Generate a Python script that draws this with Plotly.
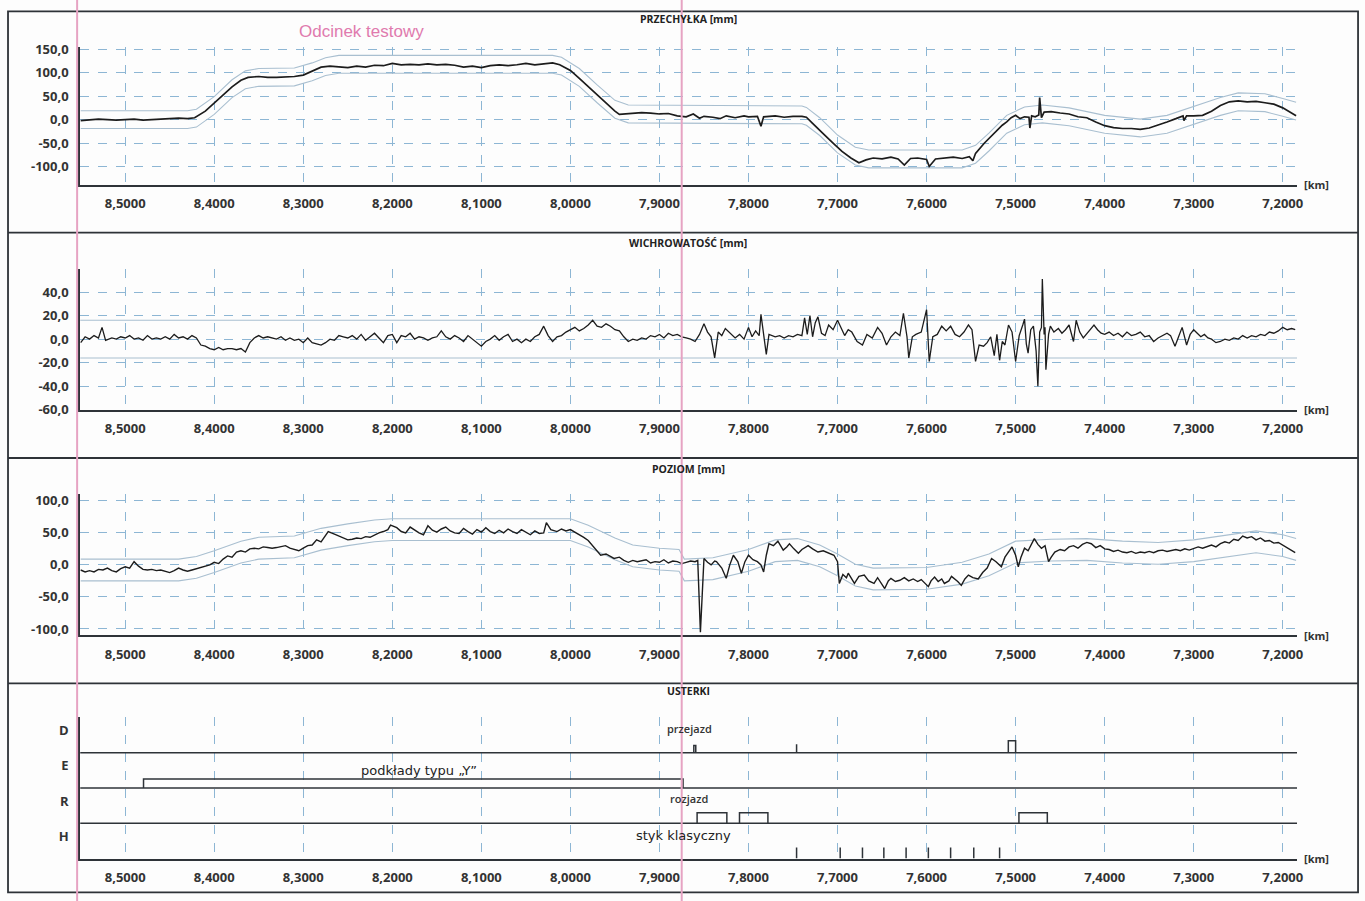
import plotly.graph_objects as go

W, H = 1365, 901
# The captured page shows the figure slightly shrunk; positions below are given in
# picture pixels and converted to paper coordinates with that correction.
SX = 0.994
SY, CY = 0.981, H / 2


def px(x):
    return (x / SX) / W


def py(y):
    return 1 - (CY + (y - CY) / SY) / H


# ---------------- data ----------------
KM_RANGE = [8.5506, 7.1839]
km_ticks = [8.5, 8.4, 8.3, 8.2, 8.1, 8.0, 7.9, 7.8, 7.7, 7.6, 7.5, 7.4, 7.3, 7.2]
km_ticktext = ["8,5000", "8,4000", "8,3000", "8,2000", "8,1000", "8,0000", "7,9000",
               "7,8000", "7,7000", "7,6000", "7,5000", "7,4000", "7,3000", "7,2000"]
TEST_SECTION_KM = 7.875

# PRZECHYŁKA [mm]
cant_km = [8.550, 8.540, 8.530, 8.520, 8.510, 8.500, 8.490, 8.480, 8.470, 8.460, 8.450, 8.440,
           8.430, 8.422, 8.410, 8.400, 8.390, 8.380, 8.370, 8.362, 8.350, 8.340, 8.330, 8.320,
           8.310, 8.300, 8.290, 8.280, 8.270, 8.260, 8.250, 8.240, 8.230, 8.220, 8.210, 8.200,
           8.190, 8.180, 8.170, 8.160, 8.150, 8.140, 8.130, 8.120, 8.110, 8.100, 8.090, 8.080,
           8.070, 8.060, 8.050, 8.040, 8.030, 8.020, 8.012, 8.000, 7.990, 7.980, 7.970, 7.960,
           7.950, 7.945, 7.930, 7.920, 7.910, 7.900, 7.890, 7.880, 7.870, 7.862, 7.855, 7.850,
           7.840, 7.832, 7.825, 7.815, 7.805, 7.800, 7.790, 7.786, 7.783, 7.770, 7.760, 7.750,
           7.740, 7.735, 7.728, 7.722, 7.715, 7.705, 7.695, 7.685, 7.676, 7.668, 7.660, 7.650,
           7.640, 7.632, 7.625, 7.618, 7.610, 7.600, 7.597, 7.590, 7.580, 7.570, 7.560, 7.552,
           7.548, 7.545, 7.535, 7.525, 7.520, 7.515, 7.510, 7.505, 7.500, 7.495, 7.490, 7.485,
           7.484, 7.482, 7.478, 7.474, 7.473, 7.471, 7.468, 7.460, 7.450, 7.440, 7.430, 7.420,
           7.410, 7.400, 7.390, 7.380, 7.370, 7.360, 7.350, 7.340, 7.330, 7.320, 7.312, 7.311,
           7.308, 7.300, 7.290, 7.280, 7.270, 7.260, 7.250, 7.240, 7.230, 7.220, 7.210, 7.200,
           7.190, 7.185]
cant_mm = [-2, 0, 1, 0, -1, 0, 1, -1, 0, 1, 2, 3,
           2, 4, 18, 35, 52, 70, 84, 90, 92, 90, 90, 91,
           92, 95, 104, 112, 114, 113, 111, 114, 112, 116, 115, 120,
           117, 118, 117, 119, 117, 118, 116, 112, 114, 111, 115, 117,
           115, 117, 120, 117, 119, 121, 117, 105, 88, 70, 52, 34,
           18, 11, 13, 15, 14, 12, 13, 8, 6, 12, 3, 7,
           5, 2, 8, 4, 8, 6, 7, -14, 6, 8, 5, 7,
           7, 5, -8, -20, -32, -50, -68, -82, -92, -86, -82, -84,
           -80, -84, -97, -83, -82, -85, -100, -84, -82, -80, -83, -79,
           -88, -72, -50, -30, -22, -12, -5, 4, 9, 2, 6, 5,
           -18, 8, 6, 10, 47, 4, 16, 17, 14, 12, 6, 4,
           -5, -13, -17, -19, -19, -21, -18, -12, -5, 2, 8, -2,
           8, 8, 9, 18, 30, 38, 40, 38, 39, 36, 33, 25,
           14, 8]
cant_nom_km = [8.55, 8.43, 8.42, 8.40, 8.38, 8.365, 8.35, 8.31, 8.29, 8.275, 8.26, 8.02, 8.01,
               7.99, 7.97, 7.95, 7.935, 7.74, 7.735, 7.72, 7.70, 7.68, 7.665, 7.56, 7.545,
               7.53, 7.51, 7.49, 7.47, 7.44, 7.40, 7.36, 7.33, 7.30, 7.27, 7.25, 7.22, 7.20,
               7.185]
cant_nom_mm = [0, 0, 3, 30, 66, 85, 90, 91, 102, 113, 118, 118, 114,
               90, 55, 22, 12, 10, 7, -15, -52, -78, -84, -84, -74,
               -48, -10, 8, 12, 6, -10, -18, -10, 9, 28, 38, 36, 26,
               18]
CANT_TOL = 19

# WICHROWATOŚĆ [mm]
twist_km = [8.550, 8.545, 8.540, 8.535, 8.530, 8.526, 8.522, 8.515, 8.510, 8.505, 8.500, 8.495,
            8.490, 8.485, 8.480, 8.475, 8.470, 8.465, 8.460, 8.455, 8.450, 8.445, 8.440, 8.435,
            8.430, 8.425, 8.420, 8.415, 8.410, 8.405, 8.400, 8.395, 8.390, 8.385, 8.380, 8.375,
            8.370, 8.365, 8.360, 8.355, 8.350, 8.345, 8.340, 8.335, 8.330, 8.325, 8.320, 8.315,
            8.310, 8.305, 8.300, 8.295, 8.290, 8.285, 8.280, 8.275, 8.270, 8.265, 8.260, 8.255,
            8.250, 8.245, 8.240, 8.235, 8.230, 8.225, 8.220, 8.215, 8.210, 8.205, 8.200, 8.195,
            8.190, 8.185, 8.180, 8.175, 8.170, 8.165, 8.160, 8.155, 8.150, 8.145, 8.140, 8.135,
            8.130, 8.125, 8.120, 8.115, 8.110, 8.105, 8.100, 8.095, 8.090, 8.085, 8.080, 8.075,
            8.070, 8.065, 8.060, 8.055, 8.050, 8.045, 8.040, 8.035, 8.030, 8.025, 8.020, 8.015,
            8.010, 8.005, 8.000, 7.995, 7.990, 7.985, 7.980, 7.975, 7.970, 7.965, 7.960, 7.955,
            7.950, 7.945, 7.940, 7.935, 7.930, 7.925, 7.920, 7.915, 7.910, 7.905, 7.900, 7.895,
            7.890, 7.885, 7.880, 7.875, 7.870, 7.865, 7.860, 7.855, 7.850, 7.846, 7.842, 7.838,
            7.834, 7.830, 7.826, 7.820, 7.815, 7.810, 7.805, 7.800, 7.796, 7.792, 7.788, 7.786,
            7.783, 7.780, 7.777, 7.770, 7.765, 7.760, 7.755, 7.750, 7.745, 7.740, 7.737, 7.734,
            7.731, 7.728, 7.725, 7.722, 7.718, 7.714, 7.710, 7.705, 7.700, 7.696, 7.692, 7.688,
            7.684, 7.678, 7.672, 7.667, 7.661, 7.655, 7.650, 7.645, 7.640, 7.635, 7.630, 7.626,
            7.622, 7.620, 7.616, 7.612, 7.606, 7.600, 7.597, 7.593, 7.588, 7.583, 7.578, 7.573,
            7.568, 7.563, 7.558, 7.553, 7.549, 7.545, 7.541, 7.536, 7.532, 7.528, 7.524, 7.521,
            7.518, 7.515, 7.512, 7.508, 7.504, 7.500, 7.496, 7.492, 7.490, 7.488, 7.486, 7.483,
            7.480, 7.477, 7.475, 7.473, 7.471, 7.470, 7.468, 7.467, 7.466, 7.463, 7.461, 7.457,
            7.452, 7.448, 7.444, 7.440, 7.437, 7.435, 7.432, 7.428, 7.424, 7.420, 7.415, 7.412,
            7.408, 7.404, 7.400, 7.395, 7.390, 7.385, 7.380, 7.375, 7.370, 7.365, 7.360, 7.355,
            7.350, 7.345, 7.340, 7.335, 7.330, 7.326, 7.321, 7.317, 7.313, 7.310, 7.308, 7.304,
            7.300, 7.296, 7.292, 7.288, 7.284, 7.280, 7.275, 7.270, 7.265, 7.260, 7.255, 7.250,
            7.245, 7.240, 7.235, 7.230, 7.225, 7.220, 7.215, 7.210, 7.205, 7.200, 7.195, 7.190,
            7.186]
twist_mm = [-3, 2, 0, 3, 1, 10, -1, 1, 0, 2, 1, 3,
            0, 1, -1, 3, 0, 1, 0, 2, 0, 4, 1, 2,
            0, 3, 1, -5, -6, -8, -9, -7, -9, -8, -8, -9,
            -8, -11, -3, 1, 3, 1, 2, 1, 0, 2, -1, 1,
            -1, 0, -3, 1, -3, -4, -5, -3, 0, -1, 3, 2,
            1, 3, 0, 4, -1, 2, 5, 1, -3, 3, 4, -3,
            3, 2, 5, 0, 2, 1, -1, 1, 2, 7, 2, 0,
            3, 1, -2, 3, 0, -3, -6, -2, 0, 3, -1, 2,
            4, -2, 0, -3, 0, -2, 2, 4, 11, 3, -2, 2,
            3, 6, 8, 10, 7, 9, 12, 16, 11, 10, 13, 11,
            8, 7, 2, -2, 0, -1, 1, 0, 3, 2, 4, 1,
            5, 3, 4, 2, 1, 0, -2, 4, 13, 6, 2, -16,
            6, 3, 9, 5, 1, 4, 0, 10, 2, 7, 3, 21,
            2, -13, 4, 2, 3, 1, 3, 2, 4, 3, 18, 4,
            20, 2, 14, 19, 5, 3, 12, 8, 16, 10, 3, 8,
            6, -2, -5, 4, 1, 10, 5, -5, 2, 6, 3, 22,
            2, -16, 2, 4, 6, 25, -19, 2, 4, 11, 7, 11,
            4, 2, 6, 12, 8, -19, -5, -6, -3, 2, -14, 4,
            -18, -2, -5, 12, 6, -19, 3, 12, 17, -4, -12, 8,
            11, -10, -40, 6, 10, 51, 4, 10, -26, 4, 11, 6,
            9, 5, 8, 12, 3, -2, 16, 6, 1, 5, 9, 12,
            8, 5, 4, 6, 3, 5, 2, 6, 3, 4, 6, 2,
            3, -2, 1, 3, 5, 3, -6, 2, 10, 1, -5, 4,
            8, 5, 2, 4, 1, 0, -3, -2, 0, -1, 1, 0,
            3, 1, 3, 2, 4, 3, 6, 5, 7, 10, 8, 9,
            8]
TWIST_LIMIT = 16

# POZIOM [mm]
level_km = [8.550, 8.545, 8.540, 8.535, 8.530, 8.525, 8.520, 8.515, 8.510, 8.505, 8.500, 8.495,
            8.490, 8.485, 8.480, 8.475, 8.470, 8.465, 8.460, 8.455, 8.450, 8.445, 8.440, 8.435,
            8.430, 8.425, 8.420, 8.415, 8.410, 8.405, 8.400, 8.395, 8.390, 8.385, 8.380, 8.375,
            8.370, 8.365, 8.360, 8.355, 8.350, 8.345, 8.340, 8.335, 8.330, 8.325, 8.320, 8.315,
            8.310, 8.305, 8.300, 8.295, 8.290, 8.285, 8.280, 8.275, 8.272, 8.265, 8.260, 8.255,
            8.250, 8.245, 8.240, 8.235, 8.230, 8.225, 8.220, 8.215, 8.210, 8.205, 8.202, 8.195,
            8.190, 8.185, 8.180, 8.175, 8.170, 8.165, 8.160, 8.155, 8.150, 8.145, 8.140, 8.135,
            8.130, 8.125, 8.120, 8.115, 8.110, 8.105, 8.100, 8.095, 8.090, 8.085, 8.080, 8.075,
            8.070, 8.065, 8.060, 8.055, 8.050, 8.045, 8.040, 8.035, 8.030, 8.027, 8.022, 8.015,
            8.010, 8.005, 8.000, 7.995, 7.990, 7.985, 7.980, 7.975, 7.970, 7.966, 7.960, 7.955,
            7.951, 7.945, 7.940, 7.935, 7.930, 7.925, 7.921, 7.915, 7.910, 7.905, 7.900, 7.895,
            7.890, 7.885, 7.880, 7.875, 7.870, 7.865, 7.860, 7.857, 7.854, 7.850, 7.846, 7.842,
            7.838, 7.836, 7.830, 7.825, 7.821, 7.817, 7.812, 7.808, 7.804, 7.800, 7.795, 7.790,
            7.786, 7.783, 7.780, 7.777, 7.772, 7.767, 7.764, 7.761, 7.757, 7.754, 7.749, 7.744,
            7.740, 7.736, 7.733, 7.728, 7.722, 7.716, 7.710, 7.704, 7.700, 7.698, 7.694, 7.690,
            7.688, 7.684, 7.681, 7.676, 7.670, 7.665, 7.659, 7.655, 7.651, 7.647, 7.643, 7.640,
            7.635, 7.630, 7.625, 7.620, 7.615, 7.610, 7.606, 7.602, 7.598, 7.595, 7.591, 7.587,
            7.583, 7.580, 7.575, 7.572, 7.569, 7.565, 7.561, 7.557, 7.553, 7.548, 7.542, 7.537,
            7.532, 7.527, 7.522, 7.518, 7.516, 7.512, 7.508, 7.504, 7.500, 7.497, 7.494, 7.490,
            7.486, 7.482, 7.479, 7.475, 7.471, 7.467, 7.463, 7.460, 7.456, 7.450, 7.445, 7.440,
            7.435, 7.430, 7.425, 7.420, 7.415, 7.410, 7.405, 7.400, 7.395, 7.390, 7.385, 7.380,
            7.375, 7.370, 7.365, 7.360, 7.355, 7.350, 7.345, 7.340, 7.335, 7.330, 7.325, 7.320,
            7.315, 7.310, 7.305, 7.300, 7.295, 7.290, 7.285, 7.280, 7.275, 7.270, 7.265, 7.260,
            7.255, 7.250, 7.245, 7.240, 7.235, 7.230, 7.225, 7.220, 7.215, 7.210, 7.205, 7.200,
            7.195, 7.190, 7.186]
level_mm = [-8, -11, -9, -11, -7, -8, -5, -9, -11, -6, -3, -5,
            5, -2, -7, -8, -7, -9, -8, -10, -12, -9, -5, -8,
            -10, -8, -6, -5, -2, 0, 4, 2, 9, 14, 12, 20,
            22, 20, 25, 26, 25, 28, 27, 26, 27, 28, 30, 26,
            24, 22, 26, 30, 31, 39, 36, 45, 52, 48, 45, 41,
            39, 40, 42, 41, 44, 43, 47, 50, 52, 55, 62, 58,
            52, 50, 59, 54, 50, 47, 61, 54, 51, 56, 59, 53,
            50, 49, 57, 52, 48, 55, 51, 58, 52, 49, 54, 50,
            56, 52, 49, 55, 51, 47, 53, 49, 50, 66, 55, 52,
            56, 53, 55, 51, 48, 43, 38, 30, 22, 15, 17, 13,
            10, 12, 7, 4, 7, 5, 6, 8, 3, 5, 4, 8,
            3, 6, 5, 2, 4, 6, 5, 7, -105, 10, 4, 0,
            6, 5, -5, -21, 0, 15, 5, -13, 5, 15, 8, 5,
            0, -11, 15, 33, 30, 37, 30, 23, 28, 33, 25, 18,
            24, 27, 30, 25, 20, 22, 18, 15, 5, -29, -15, -20,
            -13, -22, -29, -18, -16, -25, -29, -20, -28, -37, -25, -21,
            -26, -24, -20, -25, -22, -26, -23, -28, -34, -25, -19, -26,
            -22, -29, -25, -18, -21, -26, -32, -22, -16, -20, -22, -12,
            -5, 10, 5, 0, -3, 12, 20, 28, 15, -3, 12, 26,
            22, 33, 41, 32, 26, 30, 5, 12, 20, 24, 22, 28,
            30, 26, 32, 35, 33, 27, 30, 25, 24, 21, 23, 20,
            19, 21, 18, 20, 19, 21, 19, 22, 23, 21, 23, 24,
            22, 25, 23, 26, 28, 26, 29, 31, 28, 33, 36, 34,
            40, 38, 45, 42, 44, 39, 42, 37, 38, 34, 35, 31,
            27, 22, 19]
level_nom_km = [8.55, 8.44, 8.42, 8.40, 8.37, 8.35, 8.31, 8.28, 8.25, 8.22, 8.20, 8.00, 7.98,
                7.95, 7.93, 7.90, 7.878, 7.872, 7.84, 7.80, 7.77, 7.745, 7.72, 7.70, 7.68,
                7.66, 7.60, 7.56, 7.53, 7.50, 7.46, 7.42, 7.38, 7.34, 7.30, 7.26, 7.23,
                7.20, 7.185]
level_nom_mm = [-8, -8, -4, 5, 20, 26, 28, 40, 47, 53, 55, 55, 45,
                25, 14, 9, 7, -8, -6, 7, 22, 24, 14, 0, -16,
                -22, -21, -13, 0, 20, 23, 24, 20, 18, 22, 30, 36,
                30, 24]
LEVEL_TOL = 17

# USTERKI
defect_rows = ["H", "R", "E", "D"]
przejazd_boxes = [(7.8614, 7.8592, 0.2), (7.5082, 7.5000, 0.34)]
przejazd_ticks = [(7.746, 0.24)]
podklady_boxes = [(8.4794, 7.8735, 0.25)]
rozjazd_boxes = [(7.8577, 7.8243, 0.3), (7.8101, 7.7782, 0.3), (7.4963, 7.4644, 0.3)]
styk_ticks = [7.746, 7.697, 7.672, 7.648, 7.623, 7.598, 7.573, 7.547, 7.518]
STYK_H = 0.31

# ---------------- style ----------------
INK = "#1c1c1c"
GRID = "#8db6d4"
BAND = "#a9bfd0"
AXIS = "#2e3338"
PINK = "#e6a3c3"
FONT = "Open Sans"

# panel plot areas in picture pixels: (top, bottom)
X_LEFT, X_RIGHT = 80, 1295
panels = [(48, 185), (269, 410), (494, 635), (717, 858)]

fig = go.Figure()


def add_line(x, y, axis, color=INK, width=1.5):
    fig.add_trace(go.Scatter(x=x, y=y, mode="lines", xaxis="x" + axis, yaxis="y" + axis,
                             line=dict(color=color, width=width), hoverinfo="skip",
                             showlegend=False))


def boxes_path(boxes, base):
    xs, ys = [], []
    for s, e, h in boxes:
        xs += [s, s, e, e, None]
        ys += [base, base + h, base + h, base, None]
    return xs, ys


def ticks_path(ticks, base):
    xs, ys = [], []
    for t, h in ticks:
        xs += [t, t, None]
        ys += [base, base + h, None]
    return xs, ys


# panel 1
add_line(cant_nom_km, [v + CANT_TOL for v in cant_nom_mm], "", BAND, 1.1)
add_line(cant_nom_km, [v - CANT_TOL for v in cant_nom_mm], "", BAND, 1.1)
add_line(cant_km, cant_mm, "", INK, 1.7)
# panel 2
add_line(KM_RANGE, [TWIST_LIMIT, TWIST_LIMIT], "2", BAND, 1.1)
add_line(KM_RANGE, [-TWIST_LIMIT, -TWIST_LIMIT], "2", BAND, 1.1)
add_line(twist_km, twist_mm, "2", INK, 1.3)
# panel 3
add_line(level_nom_km, [v + LEVEL_TOL for v in level_nom_mm], "3", BAND, 1.1)
add_line(level_nom_km, [v - LEVEL_TOL for v in level_nom_mm], "3", BAND, 1.1)
add_line(level_km, level_mm, "3", INK, 1.4)
# panel 4
row_base = {r: i for i, r in enumerate(defect_rows)}
for r in ["R", "E", "D"]:
    add_line(KM_RANGE, [row_base[r], row_base[r]], "4", AXIS, 1.5)
xs, ys = boxes_path(przejazd_boxes, row_base["D"])
xt, yt = ticks_path(przejazd_ticks, row_base["D"])
add_line(xs + xt, ys + yt, "4", AXIS, 1.5)
xs, ys = boxes_path(podklady_boxes, row_base["E"])
add_line(xs, ys, "4", AXIS, 1.5)
xs, ys = boxes_path(rozjazd_boxes, row_base["R"])
add_line(xs, ys, "4", AXIS, 1.5)
xt, yt = ticks_path([(t, STYK_H) for t in styk_ticks], row_base["H"])
add_line(xt, yt, "4", AXIS, 1.5)

tickfont = dict(family=FONT, size=13, color="#333333", weight="bold")

yspecs = [
    dict(range=[-138.9, 153.9], tickvals=[150, 100, 50, 0, -50, -100],
         ticktext=["150,0", "100,0", "50,0", "0,0", "-50,0", "-100,0"]),
    dict(range=[-60.2, 59.8], tickvals=[40, 20, 0, -20, -40, -60],
         ticktext=["40,0", "20,0", "0,0", "-20,0", "-40,0", "-60,0"]),
    dict(range=[-109.8, 110.5], tickvals=[100, 50, 0, -50, -100],
         ticktext=["100,0", "50,0", "0,0", "-50,0", "-100,0"]),
    dict(range=[0, 4.0], tickvals=[row_base[r] + 0.63 for r in defect_rows],
         ticktext=defect_rows, showgrid=False),
]

layout = dict(width=W, height=H, autosize=False, margin=dict(l=0, r=0, t=0, b=0),
              paper_bgcolor="#fdfdfd", plot_bgcolor="rgba(0,0,0,0)", showlegend=False)
for i, ((top, bot), ys_) in enumerate(zip(panels, yspecs)):
    sfx = "" if i == 0 else str(i + 1)
    layout["xaxis" + sfx] = dict(
        domain=[px(X_LEFT), px(X_RIGHT)], range=KM_RANGE, anchor="y" + sfx,
        tickvals=km_ticks, ticktext=km_ticktext, tickfont=tickfont, ticks="",
        ticklabelstandoff=6, showline=True, linecolor=AXIS, linewidth=1.8,
        showgrid=True, gridcolor=GRID, griddash="dash", gridwidth=1, zeroline=False,
        fixedrange=True)
    yd = dict(domain=[py(bot), py(top)], anchor="x" + sfx, tickfont=tickfont, ticks="",
              ticklabelstandoff=7, showline=True, linecolor=AXIS, linewidth=1.8,
              showgrid=True, gridcolor=GRID, griddash="dash", gridwidth=1, zeroline=False,
              fixedrange=True)
    yd.update(ys_)
    layout["yaxis" + sfx] = yd

shapes = []
# outer frame and panel dividers
frame_right = min(px(1363), 0.9993)
shapes.append(dict(type="rect", xref="paper", yref="paper", x0=px(8), x1=frame_right,
                   y0=0.0008, y1=py(12), line=dict(color=AXIS, width=1.8)))
for yy in [233, 458, 683]:
    shapes.append(dict(type="line", xref="paper", yref="paper", x0=px(8), x1=frame_right,
                       y0=py(yy), y1=py(yy), line=dict(color=AXIS, width=1.8)))
# test section boundaries (pink)
shapes.append(dict(type="line", xref="paper", yref="paper", x0=px(77), x1=px(77),
                   y0=-0.02, y1=1.02, line=dict(color=PINK, width=2)))
shapes.append(dict(type="line", xref="x", yref="paper", x0=TEST_SECTION_KM,
                   x1=TEST_SECTION_KM, y0=-0.02, y1=1.02, line=dict(color=PINK, width=2)))
layout["shapes"] = shapes

ann = []
title_font = dict(family=FONT, size=10.5, color="#222222", weight="bold")
for text, yy in [("PRZECHYŁKA [mm]", 20), ("WICHROWATOŚĆ [mm]", 243), ("POZIOM [mm]", 469),
                 ("USTERKI", 691)]:
    ann.append(dict(text=text, xref="paper", yref="paper", x=px(687), y=py(yy),
                    showarrow=False, font=title_font, xanchor="center", yanchor="middle"))
for i in range(4):
    sfx = "" if i == 0 else str(i + 1)
    ann.append(dict(text="[km]", xref="x" + sfx + " domain", yref="y" + sfx + " domain",
                    x=1, y=0, xanchor="left", yanchor="middle", xshift=5, showarrow=False,
                    font=dict(family=FONT, size=11, color="#333333", weight="bold")))
ann.append(dict(text="Odcinek testowy", xref="paper", yref="paper", x=px(361), y=py(32),
                showarrow=False, font=dict(family="Liberation Sans", size=17, color="#e07aae"),
                xanchor="center", yanchor="middle"))
label_font = dict(family=FONT, size=11, color="#333333", weight=600)
hand_font = dict(family="DejaVu Sans", size=13, color="#222222")
ann.append(dict(text="przejazd", xref="x4", yref="y4", x=7.8667, y=row_base["D"] + 0.69,
                showarrow=False, font=label_font))
ann.append(dict(text="rozjazd", xref="x4", yref="y4", x=7.8667, y=row_base["R"] + 0.70,
                showarrow=False, font=label_font))
ann.append(dict(text="podkłady typu „Y”", xref="x4", yref="y4", x=8.170, y=row_base["E"] + 0.50,
                showarrow=False, font=hand_font))
ann.append(dict(text="styk klasyczny", xref="x4", yref="y4", x=7.8735, y=row_base["H"] + 0.65,
                showarrow=False, font=hand_font))
layout["annotations"] = ann

fig.update_layout(**layout)
fig.write_html("out.html", config={"displayModeBar": False},
               post_script="document.body.style.margin='0px';"
                           "document.documentElement.style.margin='0px';")
